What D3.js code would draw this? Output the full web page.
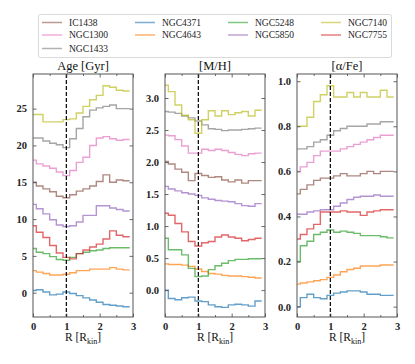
<!DOCTYPE html>
<html>
<head>
<meta charset="utf-8">
<script src="https://cdn.jsdelivr.net/npm/d3@7"></script>
<style>
  body { margin: 0; background: #fff; }
  svg { display: block; font-family: "Liberation Serif", "DejaVu Serif", serif; }
</style>
</head>
<body>
<div id="chart"></div>
<script>
// radial bin centres (R / R_kin)
const radii = [0, 0.2, 0.4, 0.6, 0.8, 1.0, 1.2, 1.4, 1.6, 1.8, 2.0, 2.2, 2.4, 2.6, 2.8];

const galaxies = ["IC1438", "NGC1300", "NGC1433", "NGC4371", "NGC4643", "NGC5248", "NGC5850", "NGC7140", "NGC7755"];
const colors = ["#8c564b", "#e377c2", "#7f7f7f", "#1f77b4", "#ff7f0e", "#2ca02c", "#9467bd", "#bcbd22", "#d62728"];

// Age [Gyr] (offset profiles)
const ageIC1438  = [15.0, 14.5, 14.1, 13.7, 13.1, 12.9, 13.3, 13.8, 14.1, 14.5, 15.1, 16.0, 15.0, 15.3, 15.2];
const ageNGC1300 = [18.0, 17.5, 17.2, 16.9, 16.4, 15.9, 16.6, 17.7, 18.4, 20.0, 21.0, 21.2, 20.9, 20.7, 20.8];
const ageNGC1433 = [21.0, 21.0, 20.6, 20.3, 20.1, 19.7, 20.9, 22.3, 23.9, 24.8, 25.1, 25.3, 25.5, 25.0, 25.0];
const ageNGC4371 = [0.3, 0.4, 0.1, -0.3, -0.2, 0.1, -0.1, -0.4, -0.7, -1.0, -1.3, -1.6, -1.7, -1.8, -1.9];
const ageNGC4643 = [3.0, 2.8, 2.6, 2.4, 2.4, 2.5, 2.7, 3.0, 3.0, 3.2, 3.2, 3.2, 3.4, 3.2, 3.1];
const ageNGC5248 = [6.0, 5.5, 5.3, 4.9, 4.5, 4.4, 4.8, 5.3, 5.5, 5.7, 5.8, 6.0, 6.1, 6.1, 6.1];
const ageNGC5850 = [12.0, 11.4, 10.7, 9.9, 9.2, 9.0, 9.1, 9.6, 10.5, 10.5, 11.8, 11.8, 11.5, 11.3, 11.1];
const ageNGC7140 = [24.2, 24.2, 23.2, 23.2, 23.2, 23.5, 23.6, 24.4, 25.3, 26.2, 26.8, 28.1, 27.9, 27.5, 27.4];
const ageNGC7755 = [9.1, 8.2, 7.5, 6.4, 5.4, 4.8, 4.6, 5.3, 5.8, 6.2, 6.6, 7.3, 8.4, 7.8, 7.6];

// [M/H] (offset profiles)
const mhIC1438  = [2.01, 1.97, 1.89, 1.84, 1.71, 1.82, 1.79, 1.76, 1.77, 1.72, 1.69, 1.72, 1.67, 1.71, 1.71];
const mhNGC1300 = [2.42, 2.41, 2.35, 2.25, 2.14, 2.14, 2.20, 2.18, 2.20, 2.18, 2.15, 2.12, 2.10, 2.13, 2.14];
const mhNGC1433 = [2.79, 2.78, 2.76, 2.72, 2.69, 2.64, 2.58, 2.52, 2.51, 2.49, 2.50, 2.50, 2.51, 2.52, 2.53];
const mhNGC4371 = [0.00, -0.13, -0.15, -0.12, -0.11, -0.17, -0.18, -0.23, -0.26, -0.27, -0.23, -0.22, -0.23, -0.25, -0.17];
const mhNGC4643 = [0.41, 0.40, 0.40, 0.39, 0.37, 0.33, 0.29, 0.26, 0.25, 0.23, 0.22, 0.22, 0.21, 0.20, 0.19];
const mhNGC5248 = [0.81, 0.63, 0.63, 0.55, 0.34, 0.21, 0.22, 0.32, 0.38, 0.42, 0.46, 0.48, 0.48, 0.49, 0.49];
const mhNGC5850 = [1.62, 1.58, 1.55, 1.52, 1.50, 1.48, 1.44, 1.42, 1.40, 1.39, 1.38, 1.35, 1.32, 1.31, 1.35];
const mhNGC7140 = [3.20, 3.10, 2.89, 2.73, 2.66, 2.45, 2.66, 2.80, 2.72, 2.80, 2.74, 2.77, 2.79, 2.72, 2.81];
const mhNGC7755 = [1.20, 1.17, 1.04, 0.91, 0.76, 0.69, 0.74, 0.76, 0.83, 0.86, 0.83, 0.81, 0.77, 0.79, 0.81];

// [alpha/Fe] (offset profiles)
const afIC1438  = [0.50, 0.52, 0.54, 0.56, 0.57, 0.57, 0.58, 0.59, 0.58, 0.58, 0.59, 0.60, 0.59, 0.60, 0.60];
const afNGC1300 = [0.60, 0.62, 0.64, 0.67, 0.69, 0.69, 0.69, 0.70, 0.71, 0.72, 0.73, 0.74, 0.75, 0.76, 0.76];
const afNGC1433 = [0.70, 0.70, 0.71, 0.73, 0.74, 0.76, 0.78, 0.79, 0.80, 0.80, 0.80, 0.81, 0.81, 0.82, 0.82];
const afNGC4371 = [0.00, 0.04, 0.055, 0.04, 0.035, 0.05, 0.06, 0.065, 0.07, 0.07, 0.065, 0.055, 0.055, 0.05, 0.05];
const afNGC4643 = [0.10, 0.105, 0.11, 0.115, 0.12, 0.13, 0.14, 0.155, 0.165, 0.17, 0.18, 0.18, 0.18, 0.185, 0.185];
const afNGC5248 = [0.20, 0.27, 0.29, 0.32, 0.33, 0.34, 0.33, 0.335, 0.33, 0.325, 0.315, 0.315, 0.315, 0.31, 0.305];
const afNGC5850 = [0.41, 0.41, 0.42, 0.425, 0.43, 0.43, 0.445, 0.46, 0.475, 0.485, 0.49, 0.49, 0.495, 0.49, 0.49];
const afNGC7140 = [0.80, 0.80, 0.84, 0.91, 0.94, 0.98, 0.93, 0.93, 0.95, 0.93, 0.95, 0.93, 0.93, 0.96, 0.93];
const afNGC7755 = [0.30, 0.32, 0.345, 0.365, 0.42, 0.42, 0.42, 0.425, 0.42, 0.42, 0.405, 0.42, 0.425, 0.43, 0.43];

const ageTicks = [0, 5, 10, 15, 20, 25];
const mhTicks = [0.0, 0.5, 1.0, 1.5, 2.0, 2.5, 3.0];
const afTicks = [0.0, 0.2, 0.4, 0.6, 0.8, 1.0];
const xTicks = [0, 1, 2, 3];
const xMinor = [0.5, 1.5, 2.5];

const panels = [
    { title: "Age [Gyr]", series: [ageIC1438, ageNGC1300, ageNGC1433, ageNGC4371, ageNGC4643, ageNGC5248, ageNGC5850, ageNGC7140, ageNGC7755],
      domain: [-3.3, 29.7], ticks: ageTicks, fmt: d3.format("d") },
    { title: "[M/H]", series: [mhIC1438, mhNGC1300, mhNGC1433, mhNGC4371, mhNGC4643, mhNGC5248, mhNGC5850, mhNGC7140, mhNGC7755],
      domain: [-0.42, 3.375], ticks: mhTicks, fmt: d3.format(".1f") },
    { title: "[\u03b1/Fe]", series: [afIC1438, afNGC1300, afNGC1433, afNGC4371, afNGC4643, afNGC5248, afNGC5850, afNGC7140, afNGC7755],
      domain: [-0.046, 1.032], ticks: afTicks, fmt: d3.format(".1f") }
];

const width = 415, height = 364;
const panelLeft = [33, 165, 297];
const panelW = 100, panelTop = 74, panelH = 243;

const svg = d3.select("#chart").append("svg")
    .attr("width", width)
    .attr("height", height);

// Legend
const legend = svg.append("g");
legend.append("rect")
    .attr("x", 38.5).attr("y", 14.5)
    .attr("width", 353).attr("height", 43)
    .attr("rx", 2)
    .attr("fill", "#fff")
    .attr("stroke", "#d0d0d0")
    .attr("stroke-width", 0.8);

const legendCols = [[0, 1, 2], [3, 4], [5, 6], [7, 8]];
const colX = [42, 135, 228, 321];
const rowY = [22.5, 35, 48.5];
legendCols.forEach((col, ci) => {
    col.forEach((gi, ri) => {
        const g = legend.append("g").attr("transform", `translate(${colX[ci]},${rowY[ri]})`);
        g.append("line")
            .attr("x1", 0).attr("x2", 20)
            .attr("stroke", colors[gi])
            .attr("stroke-width", 1.5)
            .attr("stroke-opacity", 0.6);
        g.append("text")
            .attr("x", 27).attr("y", 0)
            .attr("dy", "0.35em")
            .style("font-size", "9.5px")
            .style("fill", "#222")
            .text(galaxies[gi]);
    });
});

panels.forEach((p, pi) => {
    const x = d3.scaleLinear().domain([0, 3]).range([0, panelW]);
    const y = d3.scaleLinear().domain(p.domain).range([panelH, 0]);

    const g = svg.append("g")
        .attr("transform", `translate(${panelLeft[pi]},${panelTop})`);

    // step profiles: each value covers a bin of width 0.2 around its radius
    const line = d3.line()
        .x(d => x(d[0]))
        .y(d => y(d[1]))
        .curve(d3.curveStepAfter);

    p.series.forEach((vals, si) => {
        const pts = vals.map((v, i) => [Math.max(0, radii[i] - 0.1), v]);
        pts.push([radii[radii.length - 1] + 0.1, vals[vals.length - 1]]);
        g.append("path")
            .datum(pts)
            .attr("d", line)
            .attr("fill", "none")
            .attr("stroke", colors[si])
            .attr("stroke-width", 1.4)
            .attr("stroke-opacity", 0.7);
    });

    // dashed line at R = R_kin
    g.append("line")
        .attr("x1", x(1)).attr("x2", x(1))
        .attr("y1", 0).attr("y2", panelH)
        .attr("stroke", "#000")
        .attr("stroke-width", 1.2)
        .attr("stroke-dasharray", "4,2");

    // axes with inward ticks
    g.append("g")
        .call(d3.axisLeft(y).tickValues(p.ticks).tickFormat(p.fmt).tickSizeInner(-3.5).tickSizeOuter(0).tickPadding(6));
    g.append("g").attr("transform", `translate(${panelW},0)`)
        .call(d3.axisRight(y).tickValues(p.ticks).tickFormat("").tickSizeInner(-3.5).tickSizeOuter(0));
    g.append("g").attr("transform", `translate(0,${panelH})`)
        .call(d3.axisBottom(x).tickValues(xTicks).tickFormat(d3.format("d")).tickSizeInner(-3.5).tickSizeOuter(0).tickPadding(6));
    g.append("g")
        .call(d3.axisTop(x).tickValues(xTicks).tickFormat("").tickSizeInner(-3.5).tickSizeOuter(0));
    g.append("g").attr("transform", `translate(0,${panelH})`)
        .call(d3.axisBottom(x).tickValues(xMinor).tickFormat("").tickSizeInner(-2).tickSizeOuter(0));
    g.append("g")
        .call(d3.axisTop(x).tickValues(xMinor).tickFormat("").tickSizeInner(-2).tickSizeOuter(0));

    g.selectAll(".domain").remove();
    g.selectAll(".tick line").attr("stroke", "#444").attr("stroke-width", 0.8);
    g.selectAll(".tick text")
        .style("font-family", "'Liberation Serif', serif")
        .style("font-size", "10.5px")
        .style("font-weight", "bold")
        .style("fill", "#222");

    // frame
    g.append("rect")
        .attr("width", panelW).attr("height", panelH)
        .attr("fill", "none")
        .attr("stroke", "#555")
        .attr("stroke-width", 1);

    // title
    g.append("text")
        .attr("x", panelW / 2).attr("y", -4)
        .attr("text-anchor", "middle")
        .style("font-size", "12.5px")
        .style("fill", "#111")
        .text(p.title);

    // x label
    const xl = g.append("text")
        .attr("x", panelW / 2).attr("y", panelH + 24)
        .attr("text-anchor", "middle")
        .style("font-size", "11.5px")
        .style("fill", "#111");
    xl.append("tspan").text("R [R");
    xl.append("tspan").attr("dy", 2.5).style("font-size", "8px").text("kin");
    xl.append("tspan").attr("dy", -2.5).text("]");
});
</script>
</body>
</html>
